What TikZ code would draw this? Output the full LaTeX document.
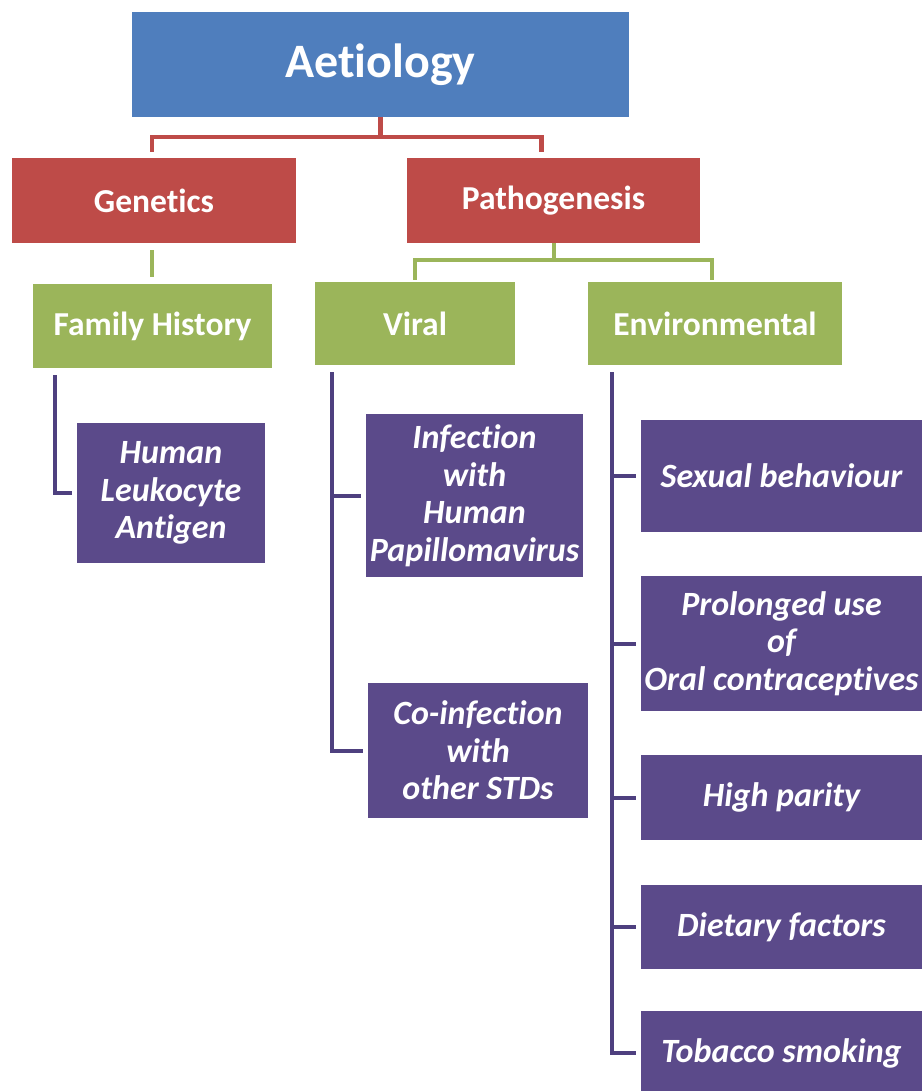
\documentclass[tikz,border=0pt]{standalone}
\usepackage{fontspec}
\setmainfont[Ligatures=NoCommon]{Carlito}
\usetikzlibrary{positioning,calc}

\definecolor{topblue}{HTML}{4F7EBD}
\definecolor{catred}{HTML}{BE4B48}
\definecolor{subgreen}{HTML}{9BB55A}
\definecolor{leafpurple}{HTML}{5B4A8A}
\definecolor{linkpurple}{HTML}{4E407F}

\tikzset{
  box/.style={rectangle, inner sep=2pt, align=center, text=white, font=\bfseries},
  rootbox/.style={box, fill=topblue, font=\bfseries\fontsize{48}{56}\selectfont},
  catbox/.style={box, fill=catred, font=\bfseries\fontsize{33.5}{38}\selectfont},
  subbox/.style={box, fill=subgreen, font=\bfseries\fontsize{33.5}{38}\selectfont},
  leafbox/.style={box, fill=leafpurple, font=\bfseries\itshape\fontsize{34}{37.5}\selectfont},
  redlink/.style={draw=catred, line width=4.5pt},
  greenlink/.style={draw=subgreen, line width=4pt},
  purplelink/.style={draw=linkpurple, line width=4pt},
}

\begin{document}
\begin{tikzpicture}[x=1pt, y=-1pt]
\useasboundingbox (0,0) rectangle (923,1091);

% root
\node[rootbox, minimum width=497pt, minimum height=105pt] (aet) at (380.5,64.5) {Aetiology};

% second level
\node[catbox, minimum width=284pt, minimum height=85pt] (gen) at (154,200.5) {Genetics};
\node[catbox, minimum width=293pt, minimum height=85pt] (path) at (553.5,200.5) {Pathogenesis};

% third level
\node[subbox, minimum width=239pt, minimum height=84pt] (fam) at (152.5,326) {Family History};
\node[subbox, minimum width=200pt, minimum height=83pt] (vir) at (415,323.5) {Viral};
\node[subbox, minimum width=254pt, minimum height=83pt] (env) at (715,323.5) {Environmental};

% leaves
\node[leafbox, minimum width=188pt, minimum height=140pt] (hla) at (171,493) {Human\\Leukocyte\\Antigen};
\node[leafbox, minimum width=217pt, minimum height=163pt] (hpv) at (474.5,495.5) {Infection\\with\\Human\\Papillomavirus};
\node[leafbox, minimum width=220pt, minimum height=135pt] (std) at (478,750.5) {Co-infection\\with\\other STDs};

\node[leafbox, minimum width=281pt, minimum height=112pt] (sex) at (781.5,476) {Sexual behaviour};
\node[leafbox, minimum width=281pt, minimum height=135pt] (oral) at (781.5,643.5) {Prolonged use\\of\\Oral contraceptives};
\node[leafbox, minimum width=281pt, minimum height=85pt] (par) at (781.5,797.5) {High parity};
\node[leafbox, minimum width=281pt, minimum height=84pt] (diet) at (781.5,927) {Dietary factors};
\node[leafbox, minimum width=281pt, minimum height=84pt] (tob) at (781.5,1053) {Tobacco smoking};

% root to categories
\coordinate (aetj) at ($(aet.south)+(0,20)$);
\draw[redlink, shorten >=6pt] (aet.south) -- (aetj) -| ([xshift=-2pt]gen.north);
\draw[redlink, shorten >=6pt] (aetj) -| ([xshift=-12pt]path.north);

% categories to sub-categories
\draw[greenlink, shorten <=7pt, shorten >=7pt] ([xshift=-2pt]gen.south) -- ([xshift=-2pt]fam.north -| gen.south);
\coordinate (pathj) at ($(path.south)+(0,17)$);
\draw[greenlink, shorten >=2pt] (path.south) -- (pathj) -| (vir.north);
\draw[greenlink, shorten >=2pt] (pathj) -| ([xshift=-3pt]env.north);

% sub-categories to leaves
\coordinate (famt) at ($(fam.south west)+(22,7)$);
\draw[purplelink, shorten >=5pt] (famt) |- (hla.west);

\coordinate (virt) at ($(vir.south west)+(17,7)$);
\draw[purplelink, shorten >=5pt] (virt) |- (std.west);
\draw[purplelink, shorten >=5pt] (virt |- hpv.west) -- (hpv.west);

\coordinate (envt) at ($(env.south west)+(24,7)$);
\draw[purplelink, shorten >=5pt] (envt) |- (tob.west);
\foreach \leaf in {sex, oral, par, diet}
  \draw[purplelink, shorten >=5pt] (envt |- \leaf.west) -- (\leaf.west);
\end{tikzpicture}
\end{document}
